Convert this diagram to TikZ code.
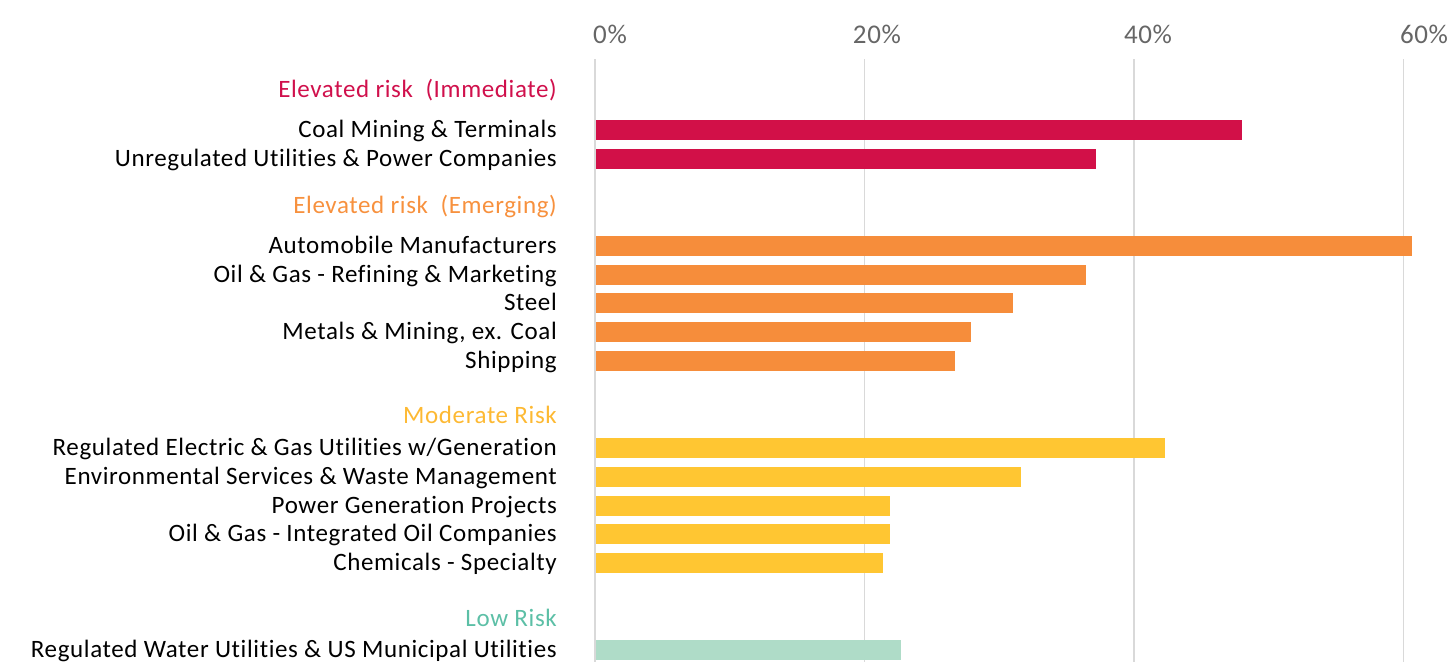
\documentclass[tikz,border=0pt]{standalone}
\usepackage{fontspec}
\setmainfont[Ligatures={NoCommon},LetterSpace=2.5]{Carlito}
\definecolor{immbar}{HTML}{D21048}
\definecolor{emgbar}{HTML}{F68D3B}
\definecolor{modbar}{HTML}{FFC632}
\definecolor{lowbar}{HTML}{AFDCC8}
\definecolor{immhead}{HTML}{D0104C}
\definecolor{emghead}{HTML}{F7913E}
\definecolor{modhead}{HTML}{FDB933}
\definecolor{lowhead}{HTML}{5CBFA6}
\definecolor{ticktext}{HTML}{666666}
\begin{document}
\begin{tikzpicture}[x=1pt,y=-1pt,
lbl/.style={anchor=base east,inner sep=0pt,font=\fontsize{25}{25}\selectfont},
hdr/.style={lbl,text=#1},
ticklbl/.style={anchor=base,inner sep=0pt,text=ticktext,font=\fontsize{27}{27}\selectfont},
gridline/.style={draw=black!15,line width=1.5pt}]
\useasboundingbox(0,0)rectangle(1452,662);
\foreach \p/\x in {0/610,20/877,40/1148,60/1424}{
\draw[gridline](595+13.475*\p,59)--(595+13.475*\p,662);
\node[ticklbl](tick\p) at(\x,43){\p\%};
}
\node[hdr=immhead](immhdr) at(557,97){Elevated risk\ \ (Immediate)};
\node[hdr=emghead](emghdr) at(557,213){Elevated risk\ \ (Emerging)};
\node[hdr=modhead](modhdr) at(557,423){Moderate Risk};
\node[hdr=lowhead](lowhdr) at(557,626){Low Risk};
\foreach \y/\v/\c/\n/\t in {
120/48.0/immbar/coal/Coal Mining \& Terminals,
149/37.2/immbar/unreg/Unregulated Utilities \& Power Companies,
236/60.6/emgbar/auto/Automobile Manufacturers,
265/36.4/emgbar/refin/Oil \& Gas - Refining \& Marketing,
293/31.0/emgbar/steel/Steel,
322/27.9/emgbar/metal/{Metals \& Mining, ex. Coal},
351/26.7/emgbar/ship/Shipping,
438/42.3/modbar/elec/{Regulated Electric \& Gas Utilities w/Generation},
467/31.6/modbar/envir/Environmental Services \& Waste Management,
496/21.9/modbar/power/Power Generation Projects,
524/21.9/modbar/integ/Oil \& Gas - Integrated Oil Companies,
553/21.4/modbar/chem/Chemicals - Specialty,
640/22.7/lowbar/water/Regulated Water Utilities \& US Municipal Utilities}{
\fill[\c](596,\y)rectangle(595+13.475*\v,\y+20);
\node[lbl](\n) at(557,\y+17){\t};
}
\end{tikzpicture}
\end{document}
